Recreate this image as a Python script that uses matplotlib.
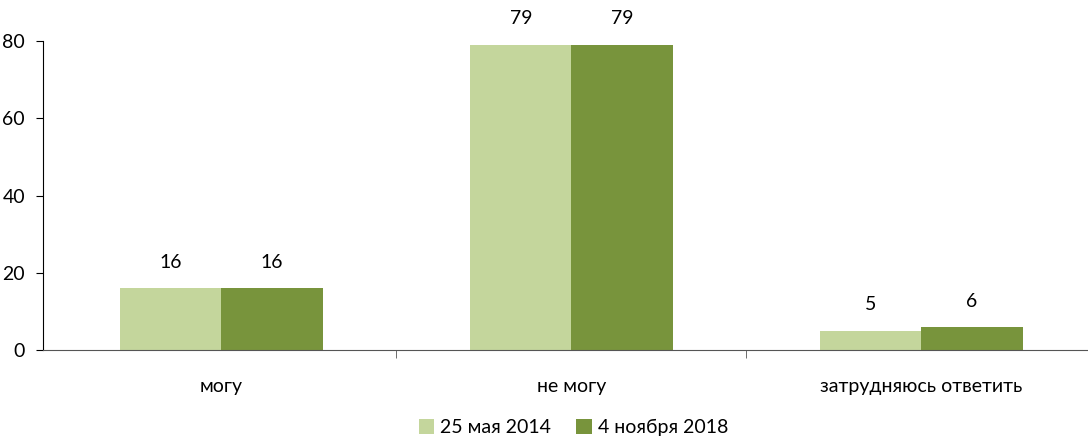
import matplotlib.pyplot as plt
import numpy as np

plt.rcParams['font.family'] = ['Lato', 'DejaVu Sans']

categories = ["могу", "не могу", "затрудняюсь ответить"]
series_names = ["25 мая 2014", "4 ноября 2018"]
values_2014 = [16, 79, 5]
values_2018 = [16, 79, 6]
colors = ["#c4d69c", "#78943c"]

fig = plt.figure(figsize=(10.88, 4.41), dpi=100)
ax = fig.add_axes([0.0395, 0.206, 0.9605, 0.701])

x = np.arange(len(categories))
w = 0.289
bars1 = ax.bar(x - w / 2, values_2014, w, color=colors[0], label=series_names[0])
bars2 = ax.bar(x + w / 2, values_2018, w, color=colors[1], label=series_names[1])

for bars in (bars1, bars2):
    for b in bars:
        ax.text(b.get_x() + b.get_width() / 2, b.get_height() + 4.5, f"{b.get_height():.0f}",
                ha="center", va="bottom", fontsize=14)

ax.set_ylim(0, 80)
ax.set_yticks([0, 20, 40, 60, 80])
ax.set_xlim(-0.51, 2.476)
ax.set_xticks(x)
ax.set_xticklabels(categories, fontsize=14)
ax.set_xticks([0.5, 1.5], minor=True)
ax.tick_params(axis="x", which="major", length=0, pad=20)
ax.tick_params(axis="x", which="minor", length=6, color="#555555")
ax.tick_params(axis="y", labelsize=14, length=5, pad=8)

for s in ("top", "right"):
    ax.spines[s].set_visible(False)
ax.spines["bottom"].set_color("#555555")

fig.legend(loc="lower center", ncol=2, frameon=False, fontsize=14,
           bbox_to_anchor=(0.527, -0.028), handlelength=0.8, handleheight=0.8,
           handletextpad=0.3, columnspacing=1.3)

fig.savefig("out.png", dpi=100)
